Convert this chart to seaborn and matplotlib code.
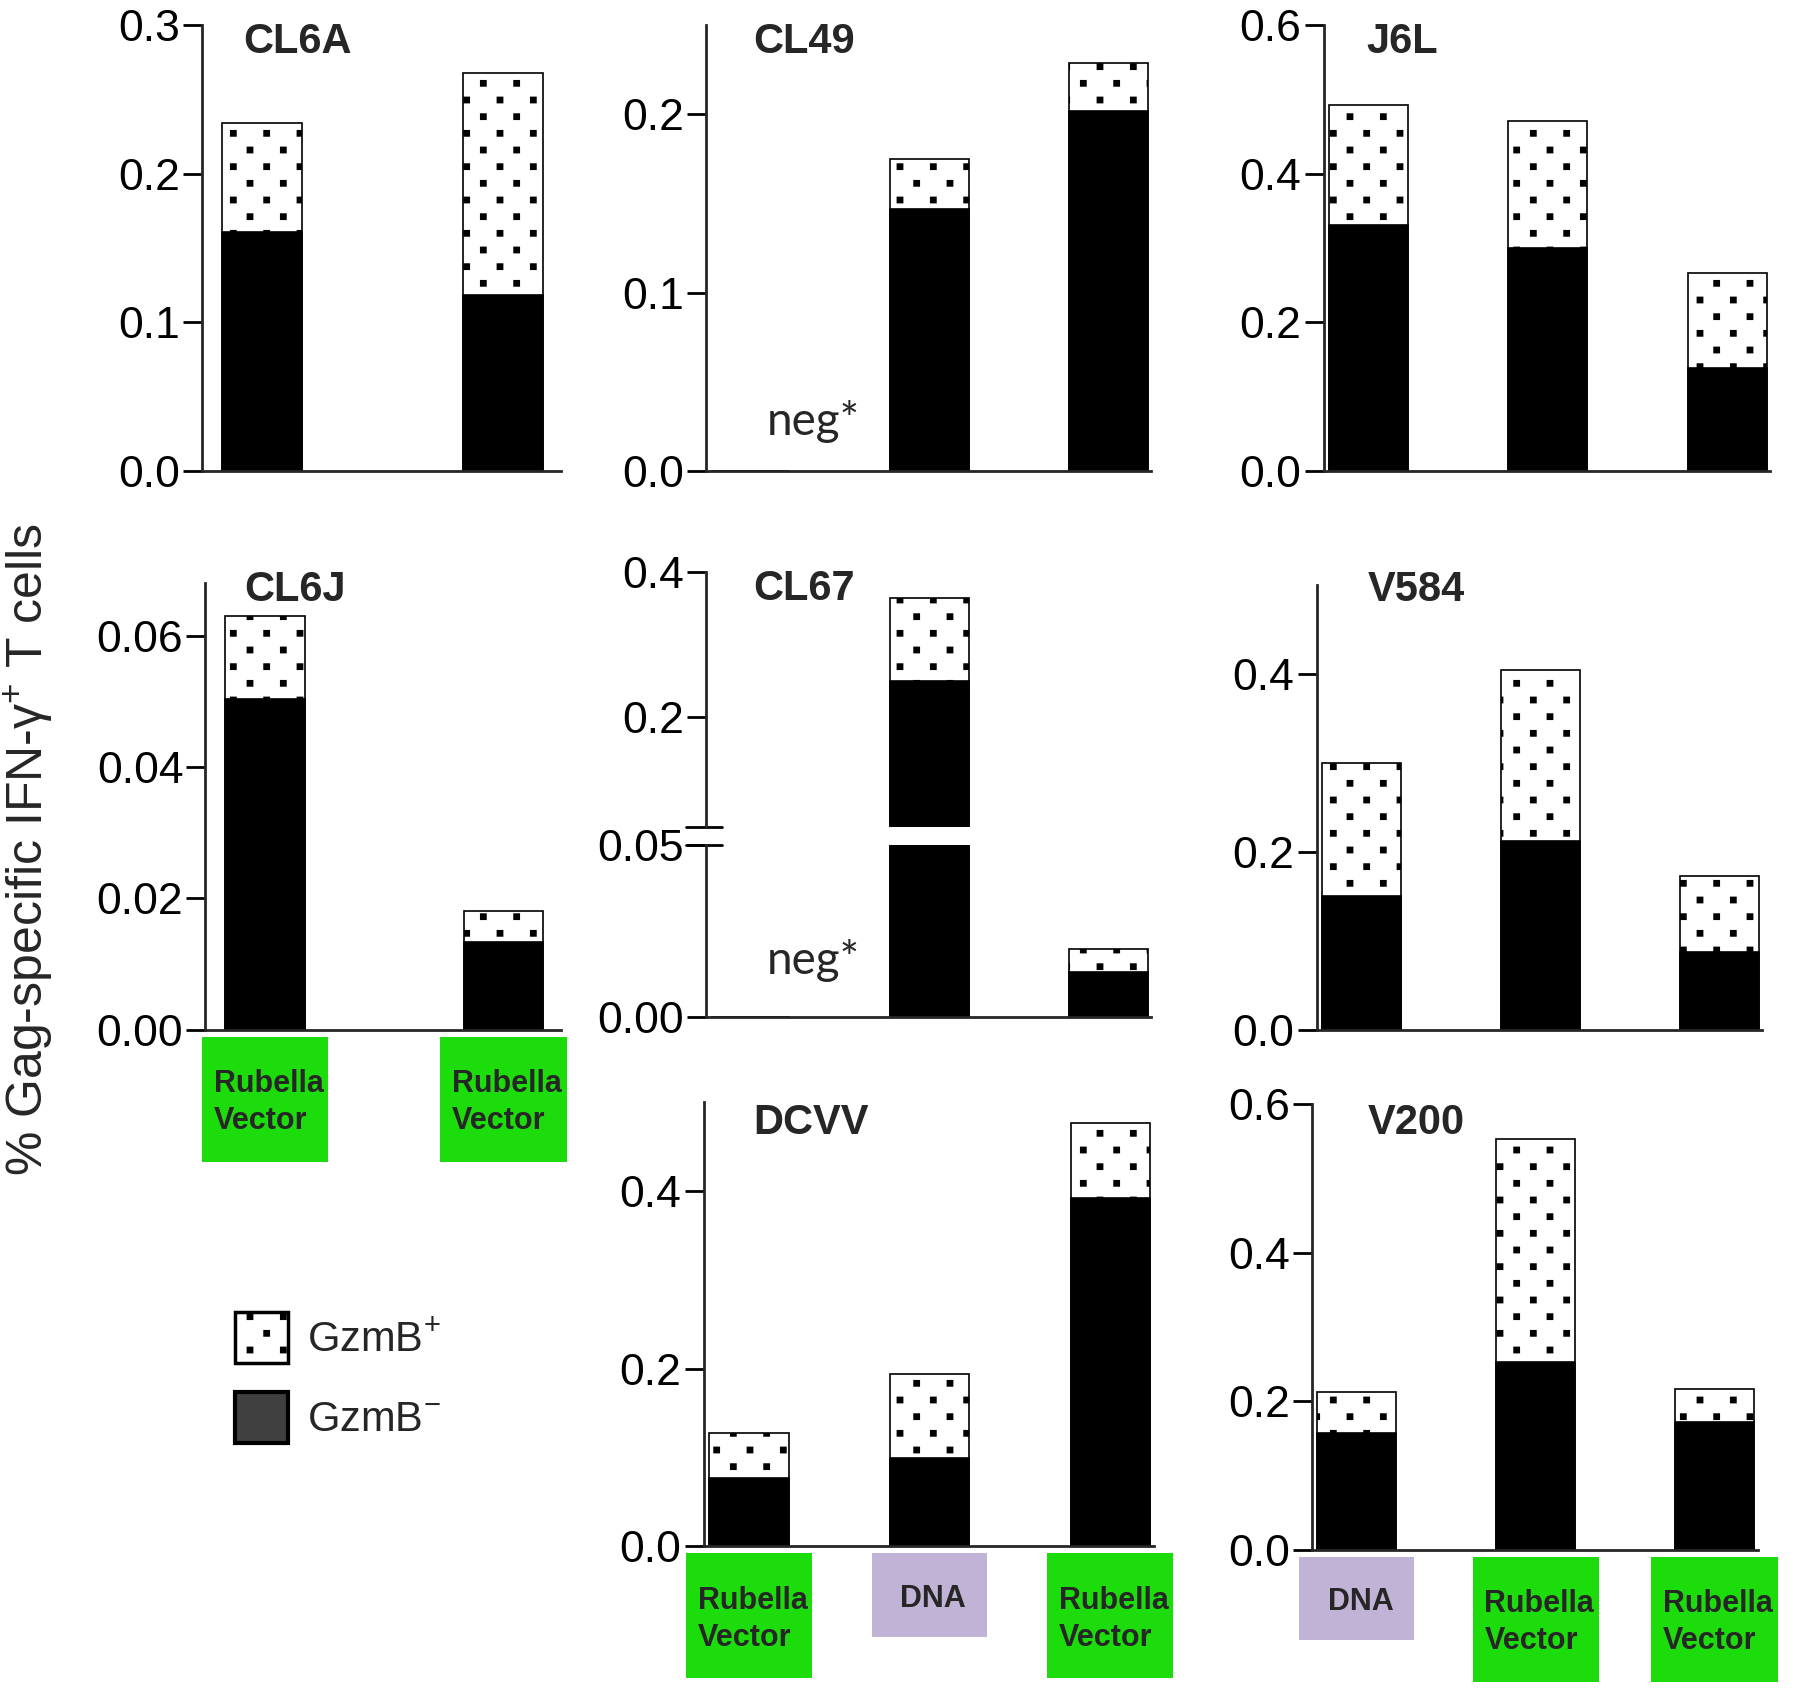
import numpy as np
import pandas as pd
import matplotlib
matplotlib.use("Agg")
import matplotlib.pyplot as plt
import matplotlib.hatch as mhatch
from matplotlib.path import Path
from matplotlib.patches import Patch, Rectangle
from matplotlib.lines import Line2D
import seaborn as sns

# % Gag-specific IFN-g+ T cells, split into GzmB- (black) and total (top of dotted part)
CL6A_NEG = [0.161, 0.118]
CL6A_TOT = [0.234, 0.268]
CL49_NEG = [0.0, 0.147, 0.202]
CL49_TOT = [0.0, 0.175, 0.229]
J6L_NEG = [0.331, 0.300, 0.138]
J6L_TOT = [0.493, 0.471, 0.266]
CL6J_NEG = [0.0504, 0.0133]
CL6J_TOT = [0.0630, 0.0181]
CL67_NEG = [0.0, 0.250, 0.0132]
CL67_TOT = [0.0, 0.364, 0.0199]
V584_NEG = [0.150, 0.212, 0.088]
V584_TOT = [0.300, 0.405, 0.173]
DCVV_NEG = [0.077, 0.099, 0.392]
DCVV_TOT = [0.128, 0.194, 0.477]
V200_NEG = [0.158, 0.253, 0.172]
V200_TOT = [0.212, 0.553, 0.216]

CL6J_VACCINE = ["Rubella\nVector", "Rubella\nVector"]
DCVV_VACCINE = ["Rubella\nVector", "DNA", "Rubella\nVector"]
V200_VACCINE = ["DNA", "Rubella\nVector", "Rubella\nVector"]

TICKS_03 = [0.0, 0.1, 0.2, 0.3]
TICKS_02 = [0.0, 0.1, 0.2]
TICKS_06 = [0.0, 0.2, 0.4, 0.6]
TICKS_04 = [0.0, 0.2, 0.4]
TICKS_006 = [0.0, 0.02, 0.04, 0.06]
CL67_LOW_TICKS = [0.0, 0.05]
CL67_HIGH_TICKS = [0.2, 0.4]

GREEN = "#1ddc0c"
PURPLE = "#c1b3d6"
W, H = 1568.0, 1473.0   # layout is measured on the 1568x1473 preview


# square, staggered dots instead of matplotlib's tiny round '.' hatch
class SquareDots(mhatch.HatchPatternBase):
    def __init__(self, hatch, density):
        self.cols, self.rows = 3, 6
        n = (self.cols + 1) * (self.rows + 1)
        self.num_vertices = n * 5 if "." in hatch else 0

    def set_vertices_and_codes(self, vertices, codes):
        s = 0.027
        sq = np.array([[-s, -s], [s, -s], [s, s], [-s, s], [-s, -s]])
        k = 0
        for r in range(self.rows + 1):
            shift = 0.5 / self.cols if r % 2 else 0.0
            for c in range(self.cols + 1):
                vertices[k:k + 5] = sq + [c / self.cols + shift, r / self.rows]
                codes[k:k + 5] = [Path.MOVETO, Path.LINETO, Path.LINETO,
                                  Path.LINETO, Path.CLOSEPOLY]
                k += 5


mhatch._hatch_types[mhatch._hatch_types.index(mhatch.SmallFilledCircles)] = SquareDots

sns.set_style("ticks")
plt.rcParams["font.family"] = ["Liberation Sans", "DejaVu Sans"]
plt.rcParams["mathtext.fontset"] = "custom"
plt.rcParams["mathtext.rm"] = "Liberation Sans"
plt.rcParams["mathtext.default"] = "regular"
plt.rcParams["hatch.linewidth"] = 1.0
plt.rcParams["hatch.color"] = "black"

fig = plt.figure(figsize=(18, 16.91), dpi=100)


def add_ax(left, top, right, bottom):
    return fig.add_axes([left / W, 1 - bottom / H, (right - left) / W, (bottom - top) / H])


def stacked(ax, neg, tot):
    cats = [str(i) for i in range(len(tot))]
    df = pd.DataFrame({"sample": cats, "tot": tot, "neg": neg})
    width = 0.333 if len(cats) == 2 else 0.44
    sns.barplot(data=df, x="sample", y="tot", order=cats, color="white", saturation=1,
                edgecolor="black", linewidth=1.2, hatch=".", width=width,
                errorbar=None, ax=ax)
    sns.barplot(data=df, x="sample", y="neg", order=cats, color="black", saturation=1,
                edgecolor="black", linewidth=1.2, width=width, errorbar=None, ax=ax)
    right = 1.243 if len(cats) == 2 else 2.24
    ax.set_xlim(-0.25, right)


def style(ax, ticks, fmt, ylim, bottom=True):
    ax.set_ylim(*ylim)
    ax.set_yticks(ticks)
    ax.set_yticklabels([fmt.format(t) for t in ticks])
    ax.set_xticks([])
    ax.set_xlabel("")
    ax.set_ylabel("")
    ax.spines["top"].set_visible(False)
    ax.spines["right"].set_visible(False)
    ax.spines["bottom"].set_visible(bottom)
    ax.spines["left"].set_linewidth(2)
    ax.spines["bottom"].set_linewidth(2)
    ax.tick_params(axis="y", length=14, width=2, pad=2, labelsize=32, colors="black")
    ax.patch.set_visible(False)


def title(x, y, s):
    fig.text(x / W, 1 - y / H, s, fontsize=30, fontweight="bold", ha="left", va="center")


def vaccine_boxes(ax, labels):
    bottom_px = ax.transAxes.transform((0, 0))[1]
    for i, lab in enumerate(labels):
        cx = ax.transData.transform((i, 0))[0]
        green = "Rubella" in lab
        bw = (110 if green else 100) / W * fig.bbox.width
        bh = (109 if green else 73) / H * fig.bbox.height
        top = bottom_px - 6 / H * fig.bbox.height
        x0, y0 = fig.transFigure.inverted().transform((cx - bw / 2, top - bh))
        ww, hh = bw / fig.bbox.width, bh / fig.bbox.height
        fig.add_artist(Rectangle((x0, y0), ww, hh, transform=fig.transFigure,
                                 facecolor=GREEN if green else PURPLE, edgecolor="none"))
        fig.text(x0 + ww / 2 + 0.002, y0 + hh / 2 - 0.002, lab, ha="center", va="center",
                 fontsize=22, fontweight="bold", multialignment="left", linespacing=1.3)


def neg_text(ax, y):
    ax.text(0.35, y, "neg*", transform=ax.get_xaxis_transform(), ha="center",
            va="center", fontsize=33, family="Lato")


# row 1
ax = add_ax(176, 22, 489, 410)
stacked(ax, CL6A_NEG, CL6A_TOT)
style(ax, TICKS_03, "{:.1f}", (0, 0.3))
title(212, 37, "CL6A")

ax = add_ax(615, 22, 1003, 410)
stacked(ax, CL49_NEG, CL49_TOT)
style(ax, TICKS_02, "{:.1f}", (0, 0.25))
title(656, 37, "CL49")
neg_text(ax, 0.11)

ax = add_ax(1153, 22, 1542, 410)
stacked(ax, J6L_NEG, J6L_TOT)
style(ax, TICKS_06, "{:.1f}", (0, 0.6))
title(1190, 37, "J6L")

# row 2
ax = add_ax(179, 508, 489, 897)
stacked(ax, CL6J_NEG, CL6J_TOT)
style(ax, TICKS_006, "{:.2f}", (0, 0.068))
title(213, 514, "CL6J")
vaccine_boxes(ax, CL6J_VACCINE)

# CL67 with a broken y axis
ax_hi = add_ax(615, 498, 1003, 720)
stacked(ax_hi, CL67_NEG, CL67_TOT)
style(ax_hi, CL67_HIGH_TICKS, "{:.1f}", (0.05, 0.4), bottom=False)
ax_lo = add_ax(615, 736, 1003, 886)
stacked(ax_lo, CL67_NEG, CL67_TOT)
style(ax_lo, CL67_LOW_TICKS, "{:.2f}", (0, 0.05))
for a, yy in [(ax_lo, 1.0), (ax_hi, 0.0)]:
    a.add_line(Line2D([-0.045, 0.035], [yy, yy], transform=a.transAxes, color="black",
                      lw=2, clip_on=False))
title(656, 513, "CL67")
neg_text(ax_lo, 0.33)

ax = add_ax(1147, 510, 1535, 897)
stacked(ax, V584_NEG, V584_TOT)
style(ax, TICKS_04, "{:.1f}", (0, 0.5))
title(1191, 514, "V584")

# row 3
ax = add_ax(613, 960, 1005, 1347)
stacked(ax, DCVV_NEG, DCVV_TOT)
style(ax, TICKS_04, "{:.1f}", (0, 0.5))
title(656, 978, "DCVV")
vaccine_boxes(ax, DCVV_VACCINE)

ax = add_ax(1143, 962, 1531, 1350)
stacked(ax, V200_NEG, V200_TOT)
style(ax, TICKS_06, "{:.1f}", (0, 0.6))
title(1191, 978, "V200")
vaccine_boxes(ax, V200_VACCINE)

fig.text(25 / W, 1 - 740 / H, r"% Gag-specific IFN-γ$^{+}$ T cells", rotation=90,
         ha="center", va="center", fontsize=36)

handles = [Patch(facecolor="white", edgecolor="black", hatch=".", linewidth=2.5),
           Patch(facecolor="#404040", edgecolor="black", linewidth=3)]
fig.legend(handles, [r"GzmB$^{+}$", r"GzmB$^{-}$"], loc="upper left",
           bbox_to_anchor=(205 / W, 1 - 1143 / H), frameon=False, fontsize=30,
           handlelength=1.27, handleheight=1.5, handletextpad=0.45,
           labelspacing=0.7, borderpad=0, borderaxespad=0)

fig.savefig("out.png", dpi=100)
